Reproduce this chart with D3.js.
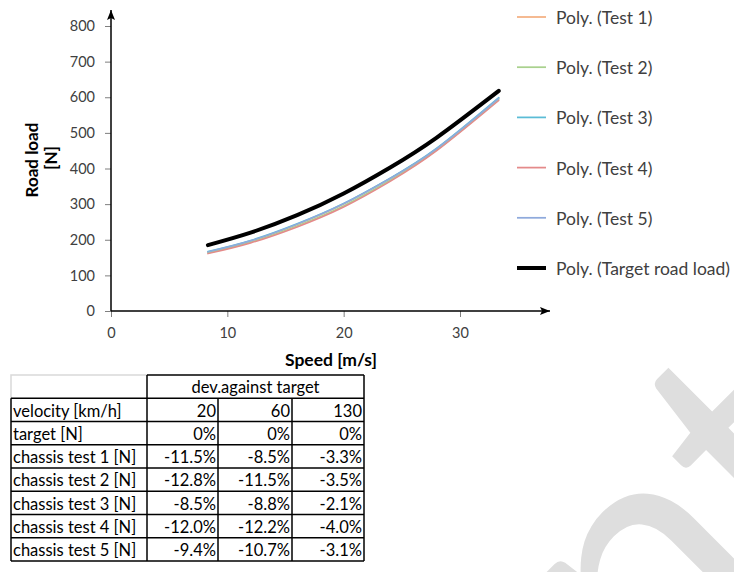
<!DOCTYPE html>
<html>
<head>
<meta charset="utf-8">
<script src="https://cdn.jsdelivr.net/npm/d3@7"></script>
<style>
  body { margin: 0; background: #fff; }
  svg { font-family: Lato, "Open Sans", sans-serif; }
</style>
</head>
<body>
<div id="chart"></div>
<script>
// data
const speeds = [8.33, 12, 16, 20, 24, 28, 33.33];
const target = [185, 220, 269, 330, 403, 487, 618];
const test1 = [165, 196, 243, 300, 372, 455, 596];
const test2 = [163, 193, 239, 295, 367, 452, 594];
const test3 = [167, 198, 245, 302, 373, 457, 599];
const test4 = [161, 191, 236, 292, 364, 450, 591];
const test5 = [166, 197, 244, 301, 372, 456, 597];

const seriesNames = ["Poly. (Test 1)", "Poly. (Test 2)", "Poly. (Test 3)", "Poly. (Test 4)", "Poly. (Test 5)", "Poly. (Target road load)"];
const seriesValues = [test1, test2, test3, test4, test5, target];
const seriesColors = ["#f4b183", "#a9d18e", "#5bbcd6", "#e48a8a", "#8faadc", "#000000"];

const yTicks = [0, 100, 200, 300, 400, 500, 600, 700, 800];
const xTicks = [0, 10, 20, 30];

// table
const tableHeader = "dev.against target";
const velocities = [20, 60, 130];
const rowLabels = ["target [N]", "chassis test 1 [N]", "chassis test 2 [N]", "chassis test 3 [N]", "chassis test 4 [N]", "chassis test 5 [N]"];
const devTarget = [0, 0, 0];
const devTest1 = [-11.5, -8.5, -3.3];
const devTest2 = [-12.8, -11.5, -3.5];
const devTest3 = [-8.5, -8.8, -2.1];
const devTest4 = [-12.0, -12.2, -4.0];
const devTest5 = [-9.4, -10.7, -3.1];
const devRows = [devTarget, devTest1, devTest2, devTest3, devTest4, devTest5];

const W = 734, H = 572;
const svg = d3.select("#chart").append("svg")
  .attr("width", W).attr("height", H);

// watermark, only its last letters fall inside the page
svg.append("text")
  .attr("transform", "translate(879,494) rotate(-45)")
  .attr("text-anchor", "end")
  .style("font-size", "355px")
  .style("fill", "#dedede")
  .text("Document");

const x = d3.scaleLinear().domain([0, 30]).range([111, 460]);
const y = d3.scaleLinear().domain([0, 800]).range([311, 26]);

// arrow heads
const defs = svg.append("defs");
defs.append("marker")
  .attr("id", "arrow")
  .attr("viewBox", "0 0 10 8")
  .attr("refX", 10).attr("refY", 4)
  .attr("markerWidth", 11).attr("markerHeight", 8)
  .attr("markerUnits", "userSpaceOnUse")
  .attr("orient", "auto")
  .append("path").attr("d", "M0,0 L10,4 L0,8 L2,4 Z").attr("fill", "#000");

// axes
const yAxis = svg.append("g")
  .attr("transform", `translate(${x(0)},0)`)
  .call(d3.axisLeft(y).tickValues(yTicks).tickSize(6).tickPadding(10));
const xAxis = svg.append("g")
  .attr("transform", `translate(0,${y(0)})`)
  .call(d3.axisBottom(x).tickValues(xTicks).tickSize(6).tickPadding(11));
[yAxis, xAxis].forEach(g => {
  g.select(".domain").remove();
  g.selectAll(".tick line").attr("stroke", "#7f7f7f");
  g.selectAll(".tick text").attr("fill", "#404040").style("font-size", "14.5px").style("font-family", "Lato, sans-serif");
});

svg.append("line")
  .attr("x1", x(0)).attr("y1", y(0)).attr("x2", x(0)).attr("y2", 10)
  .attr("stroke", "#000").attr("stroke-width", 1.5).attr("marker-end", "url(#arrow)");
svg.append("line")
  .attr("x1", x(0)).attr("y1", y(0)).attr("x2", 550).attr("y2", y(0))
  .attr("stroke", "#000").attr("stroke-width", 1.5).attr("marker-end", "url(#arrow)");

// axis titles
svg.append("text")
  .attr("transform", "translate(38,160) rotate(-90)")
  .attr("text-anchor", "middle")
  .style("font-size", "17px").style("font-weight", "bold")
  .text("Road load");
svg.append("text")
  .attr("transform", "translate(57,158) rotate(-90)")
  .attr("text-anchor", "middle")
  .style("font-size", "17px").style("font-weight", "bold")
  .text("[N]");
svg.append("text")
  .attr("x", 331).attr("y", 366)
  .attr("text-anchor", "middle")
  .style("font-size", "17.5px").style("font-weight", "bold")
  .text("Speed [m/s]");

// curves
const line = d3.line()
  .x((d, i) => x(speeds[i]))
  .y(d => y(d))
  .curve(d3.curveNatural);

seriesValues.forEach((vals, k) => {
  svg.append("path")
    .datum(vals)
    .attr("d", line)
    .attr("fill", "none")
    .attr("stroke", seriesColors[k])
    .attr("stroke-width", k === 5 ? 4 : 1.5)
    .attr("stroke-linecap", "round");
});

// legend
const legY = d3.scalePoint().domain(seriesNames).range([17, 268]);
seriesNames.forEach((name, k) => {
  svg.append("line")
    .attr("x1", 517).attr("x2", 546)
    .attr("y1", legY(name)).attr("y2", legY(name))
    .attr("stroke", seriesColors[k])
    .attr("stroke-width", k === 5 ? 4 : 1.75);
  svg.append("text")
    .attr("x", 556).attr("y", legY(name))
    .attr("dy", "0.4em")
    .attr("fill", "#404040")
    .style("font-size", "17.5px")
    .text(name);
});

// table
const colX = [11, 147, 218, 292, 364];
const rowY = d3.scaleLinear().domain([0, 8]).range([375, 561]);
const tbl = svg.append("g").style("font-size", "16.5px");
const nRows = 2 + rowLabels.length;

// grey header corner cell
tbl.append("path")
  .attr("d", `M${colX[0]},${rowY(1)} V${rowY(0)} H${colX[1]}`)
  .attr("fill", "none").attr("stroke", "#d9d9d9").attr("stroke-width", 1.5);

// black grid
const grid = tbl.append("g").attr("stroke", "#000").attr("stroke-width", 1.5);
grid.append("line").attr("x1", colX[1]).attr("x2", colX[4]).attr("y1", rowY(0)).attr("y2", rowY(0));
for (let r = 1; r <= nRows; r++) {
  grid.append("line").attr("x1", colX[0]).attr("x2", colX[4]).attr("y1", rowY(r)).attr("y2", rowY(r));
}
grid.append("line").attr("x1", colX[0]).attr("x2", colX[0]).attr("y1", rowY(1)).attr("y2", rowY(nRows));
grid.append("line").attr("x1", colX[1]).attr("x2", colX[1]).attr("y1", rowY(0)).attr("y2", rowY(nRows));
grid.append("line").attr("x1", colX[4]).attr("x2", colX[4]).attr("y1", rowY(0)).attr("y2", rowY(nRows));
[2, 3].forEach(c => {
  grid.append("line").attr("x1", colX[c]).attr("x2", colX[c]).attr("y1", rowY(1)).attr("y2", rowY(nRows));
});

// text sits on the bottom of each cell
const baseY = r => rowY(r + 1) - 5;
tbl.append("text")
  .attr("x", (colX[1] + colX[4]) / 2).attr("y", baseY(0))
  .attr("text-anchor", "middle").text(tableHeader);

tbl.append("text").attr("x", colX[0] + 2).attr("y", baseY(1)).text("velocity [km/h]");
velocities.forEach((v, c) => {
  tbl.append("text").attr("x", colX[c + 2] - 2).attr("y", baseY(1))
    .attr("text-anchor", "end").text(v);
});

const fmt = v => v === 0 ? "0%" : v.toFixed(1) + "%";
rowLabels.forEach((lab, i) => {
  const r = i + 2;
  tbl.append("text").attr("x", colX[0] + 2).attr("y", baseY(r)).text(lab);
  devRows[i].forEach((v, c) => {
    tbl.append("text").attr("x", colX[c + 2] - 2).attr("y", baseY(r))
      .attr("text-anchor", "end").text(fmt(v));
  });
});
</script>
</body>
</html>
